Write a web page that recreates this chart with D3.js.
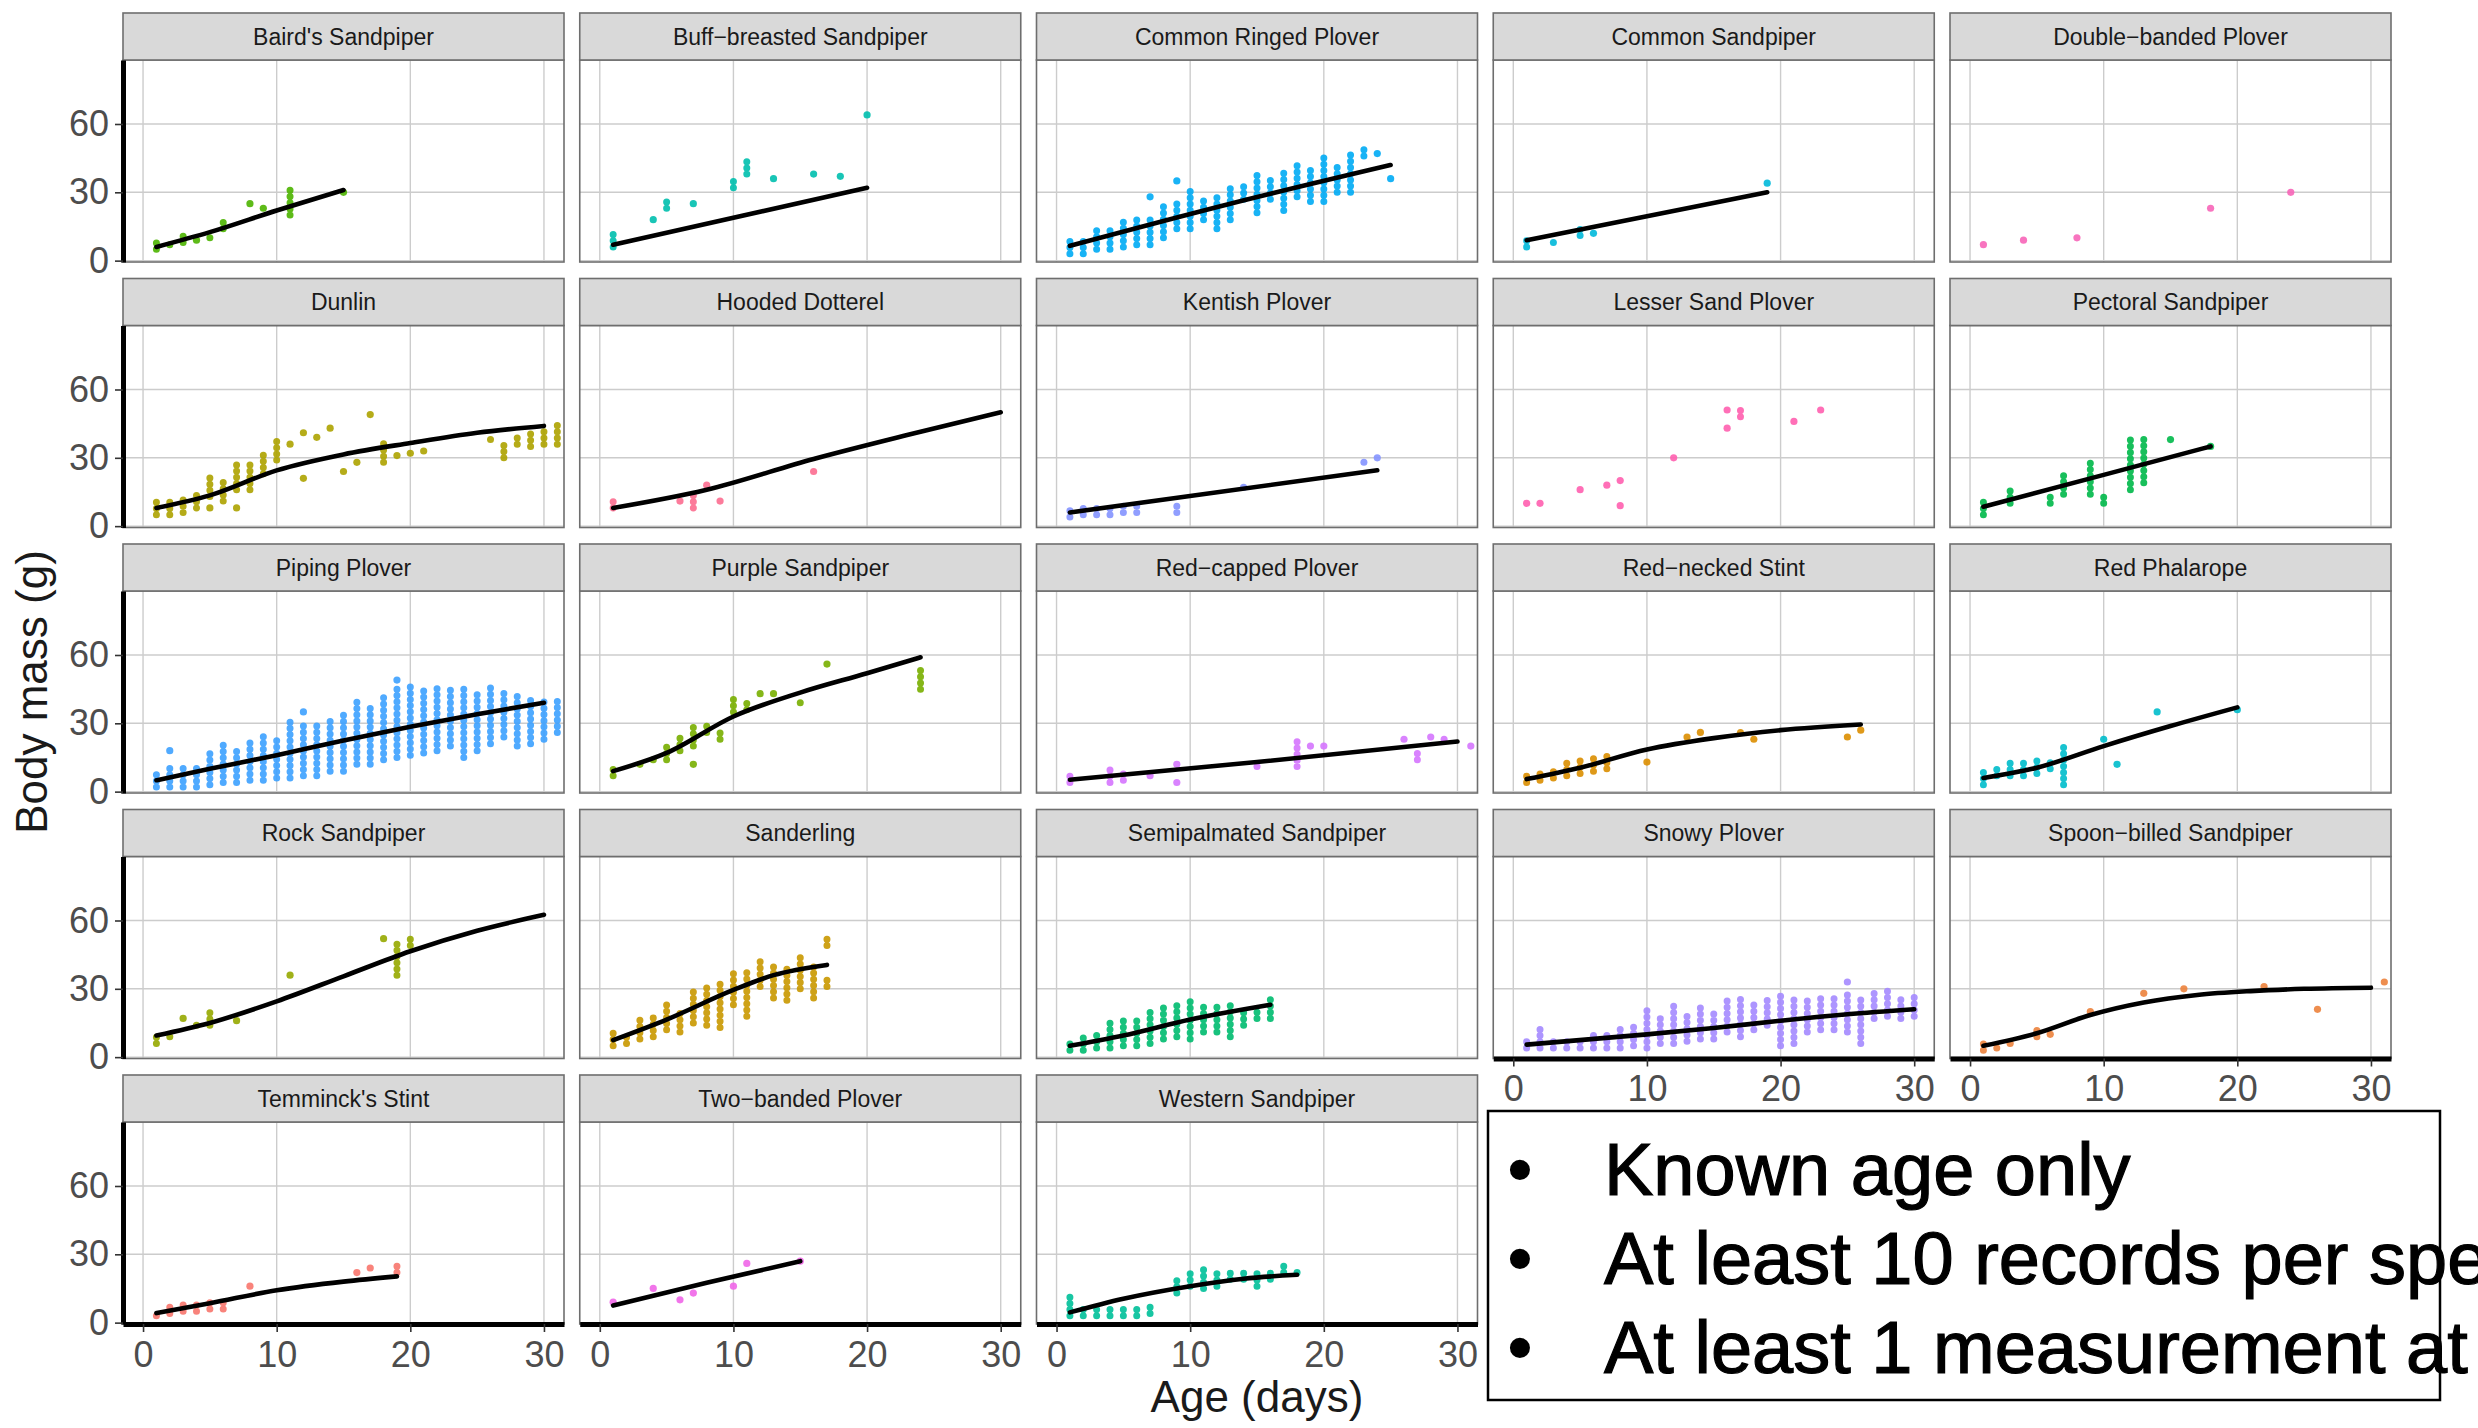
<!DOCTYPE html>
<html>
<head>
<meta charset="utf-8">
<script src="https://cdn.jsdelivr.net/npm/d3@7"></script>
<style>
  html, body { margin: 0; padding: 0; background: #fff; overflow: hidden; }
  svg { display: block; font-family: "Liberation Sans", Arial, sans-serif; }
</style>
</head>
<body>
<svg id="chart" width="2478" height="1428"></svg>
<script>
// facet titles, in panel order
const speciesNames = [
  "Baird's Sandpiper", "Buff\u2212breasted Sandpiper", "Common Ringed Plover", "Common Sandpiper", "Double\u2212banded Plover",
  "Dunlin", "Hooded Dotterel", "Kentish Plover", "Lesser Sand Plover", "Pectoral Sandpiper",
  "Piping Plover", "Purple Sandpiper", "Red\u2212capped Plover", "Red\u2212necked Stint", "Red Phalarope",
  "Rock Sandpiper", "Sanderling", "Semipalmated Sandpiper", "Snowy Plover", "Spoon\u2212billed Sandpiper",
  "Temminck's Stint", "Two\u2212banded Plover", "Western Sandpiper"
];

const speciesColors = [
  "#4CB400", "#00BFAE", "#00ABF5", "#00B9DA", "#F765B8",
  "#ADA300", "#FC6D90", "#8494FF", "#FF5FAF", "#00B94A",
  "#3DA1FF", "#78AF00", "#D575FE", "#DB8E00", "#00BDCB",
  "#96A900", "#C99800", "#00BC6F", "#A58AFF", "#EC823C",
  "#F8766D", "#F066E8", "#00C09A"
];

// body mass records: [age, mass] for a single record, [age, low, high] for a stack of records at one age
const massRecords = [
  [[1,5,8],[2,7,9],[3,8,12],[4,9],[5,10,11],[6,14,19],[8,25],[9,23],[11,20,31],[15,30]],
  [[1,6,12],[4,18],[5,23,27],[7,25],[10,32,37],[11,38,44],[13,36],[16,38],[18,37],[20,64]],
  [[1,3,10],[2,3,11],[3,5,14],[4,5,14],[5,6,17],[6,7,19],[7,7,20],[7,28],[8,10,26],[9,14,27],[9,35],[10,14,31],[11,18,28],[12,14,30],[13,18,33],[14,27,35],[15,21,38],[16,27,36],[17,22,40],[18,28,44],[19,26,42],[20,26,46],[21,30,43],[22,30,48],[23,46,50],[24,47],[25,36]],
  [[1,6,11],[3,8,10],[5,11,14],[6,12],[19,34]],
  [[1,7],[4,9],[8,10],[18,23],[24,30]],
  [[1,5,11],[2,5,11],[3,6,14],[4,8,16],[5,8],[5,13,22],[6,11,21],[7,8],[7,16,29],[8,16,28],[9,23,32],[10,29,38],[11,36],[12,21],[12,41],[13,39],[14,43],[15,24],[16,28],[17,49],[18,28,37],[19,31],[20,32],[21,33],[26,38,40],[27,30,37],[28,36,41],[29,35,42],[30,36,44],[31,36,46]],
  [[1,8,11],[6,11],[7,8,14],[8,18],[9,11],[16,24]],
  [[1,4,8],[2,5,8],[3,5,8],[4,5,9],[5,6,9],[6,6,10],[9,6,11],[14,17],[23,28,29],[24,30]],
  [[1,10],[2,10],[5,16],[7,18],[8,9],[8,20],[12,30],[16,43],[16,51],[17,48,52],[21,46],[23,51]],
  [[1,5,12],[3,10,16],[6,10,15],[7,14,24],[9,14,30],[10,10,14],[12,16,40],[13,19,40],[15,38],[18,35]],
  [[1,2,10],[2,2,12],[2,18],[3,2,12],[4,2,12],[5,3,19],[6,4,21],[7,4,20],[8,5,23],[9,5,25],[10,6,24],[11,6,31],[12,7,30],[12,35],[13,7,30],[14,9,33],[15,9,35],[16,12,40],[17,12,38],[18,14,43],[19,15,45],[19,49],[20,16,47],[21,17,45],[22,18,46],[23,20,46],[24,15,45],[25,18,43],[26,21,47],[27,24,44],[28,20,43],[29,21,42],[30,23,42],[31,26,42]],
  [[1,7,10],[3,12],[4,14],[5,14,21],[6,18,26],[7,12],[7,20,29],[8,26,30],[9,23,27],[10,35,42],[11,36,40],[12,43],[13,43],[15,39,41],[17,56],[24,45,55]],
  [[1,4,7],[4,4,10],[5,5,9],[7,7],[9,4],[9,12],[15,11,12],[18,11,23],[19,20],[20,20],[26,23],[27,14,18],[28,24],[29,23,25],[31,20]],
  [[1,4,7],[2,5,9],[3,6,11],[4,7,13],[5,8,14],[6,9,17],[7,10,18],[10,13],[13,24],[14,26],[17,26,28],[18,23],[25,24],[26,27]],
  [[1,3,10],[2,7,12],[3,7,13],[4,7,14],[5,8,14],[6,10,14],[7,3,21],[10,23],[11,12],[14,35],[20,36]],
  [[1,6,11],[2,9,11],[3,17],[4,14],[5,14,20],[7,16],[11,36],[18,52],[19,36,50],[20,49,53]],
  [[1,5,12],[2,6,11],[3,8,17],[4,9,18],[5,12,25],[6,11,21],[7,15,31],[8,14,33],[9,13,34],[10,23,39],[11,18,39],[12,31,42],[13,26,42],[14,25,40],[15,30,46],[16,26,40],[17,31,34],[17,49,54]],
  [[1,3,8],[2,3,11],[3,4,12],[4,4,17],[5,5,17],[6,5,18],[7,6,21],[8,8,22],[9,9,25],[10,8,25],[11,11,23],[12,11,23],[13,9,24],[14,14,21],[15,17,21],[16,17,27]],
  [[1,4,7],[2,4,14],[3,4,7],[4,4,8],[5,4,8],[6,4,11],[7,4,12],[8,4,14],[9,5,15],[10,4,21],[11,6,17],[12,6,23],[13,7,20],[14,8,23],[15,8,20],[16,11,27],[17,9,26],[18,12,25],[19,14,26],[20,5,27],[21,6,26],[22,11,26],[23,12,28],[24,12,26],[25,11,28],[25,33],[26,6,27],[27,17,28],[28,18,29],[29,17,27],[30,18,28]],
  [[1,3,6],[2,4,5],[3,6],[5,9,12],[6,10],[9,20],[13,28],[16,30],[22,31],[26,21],[31,33]],
  [[1,3,5],[2,4,7],[3,5,8],[4,5,8],[5,6,9],[6,6,9],[8,16],[16,22],[17,24],[19,22,25]],
  [[1,9],[4,15],[6,10],[7,13],[10,16],[11,26],[15,27]],
  [[1,3,12],[2,3,7],[3,3,7],[4,3,7],[5,3,7],[6,3,7],[7,4,8],[9,13,20],[10,16,22],[11,15,24],[12,16,22],[13,19,22],[14,19,24],[15,16,23],[16,19,24],[17,22,25],[18,22,23]]
];

// fitted growth curves [age, mass]; null where no curve was fitted
const fitCurves = [
  [[1,6],[5,12.5],[10,22],[15,31]],
  [[1,7],[20,32]],
  [[1,6.5],[13,25],[25,42]],
  [[1,9],[19,30]],
  null,
  [[1,8],[5,13.5],[10,24.5],[15,31.5],[20,36.5],[25,41],[30,44]],
  [[1,8],[8,16],[16,29.5],[23,40],[30,50]],
  [[1,6],[24,24.5]],
  null,
  [[1,8.5],[10,22.5],[18,35]],
  [[1,5],[5,10],[10,16],[15,22.5],[20,28.5],[25,34],[30,39]],
  [[1,9],[5,17],[10,33],[15,43.5],[20,52],[24,59]],
  [[1,5.2],[15,13],[30,22]],
  [[1,5.5],[5,10.5],[10,18.5],[15,23.5],[20,27],[26,29.5]],
  [[1,6],[5,10.5],[10,20],[15,28.8],[20,37]],
  [[1,9.5],[5,15],[10,24.5],[15,35.5],[20,46.5],[25,55.5],[30,62.5]],
  [[1,7.5],[5,16.5],[10,29.5],[13,36],[17,40.5]],
  [[1,5],[5,9.5],[10,16.5],[16,23]],
  [[1,5.5],[10,10],[15,12.8],[20,16],[25,18.8],[30,21]],
  [[1,5],[5,10.5],[9,18.5],[13,24],[17,27.3],[21,29],[25,30],[30,30.5]],
  [[1,4.2],[5,8.5],[10,14.2],[15,18],[19,20.3]],
  [[1,7.5],[8,17.5],[15,27]],
  [[1,4.5],[5,10.5],[10,16],[14,19.3],[18,21]]
];

const xTicks = [0, 10, 20, 30];
const yTicks = [0, 30, 60];
const xDomain = [-1.5, 31.5];
const yDomain = [-0.6, 88.1];
const noteLines = ["Known age only", "At least 10 records per species", "At least 1 measurement at"];

// layout
const nCol = 5;
const panelW = 441, panelH = 202, stripH = 47;
const colStep = 456.75, rowStep = 265.5;
const left0 = 123, top0 = 13;

const svg = d3.select("#chart");
svg.append("rect").attr("width", 2478).attr("height", 1428).attr("fill", "#fff");

const line = d3.line().curve(d3.curveMonotoneX);

speciesNames.forEach(function(name, i) {
  const col = i % nCol, row = Math.floor(i / nCol);
  const px = left0 + col * colStep;
  const sy = top0 + row * rowStep;
  const py = sy + stripH;

  const x = d3.scaleLinear().domain(xDomain).range([px, px + panelW]);
  const y = d3.scaleLinear().domain(yDomain).range([py + panelH, py]);
  line.x(d => x(d[0])).y(d => y(d[1]));

  const g = svg.append("g");

  // panel background + grid
  g.append("rect").attr("x", px).attr("y", py).attr("width", panelW).attr("height", panelH).attr("fill", "#fff");
  g.selectAll(".gx").data(xTicks).enter().append("line")
    .attr("x1", d => x(d)).attr("x2", d => x(d)).attr("y1", py).attr("y2", py + panelH)
    .attr("stroke", "#cccccc").attr("stroke-width", 1.4);
  g.selectAll(".gy").data(yTicks).enter().append("line")
    .attr("x1", px).attr("x2", px + panelW).attr("y1", d => y(d)).attr("y2", d => y(d))
    .attr("stroke", "#cccccc").attr("stroke-width", 1.4);

  // records: stacks drawn as a column of touching dots
  const recs = massRecords[i];
  g.selectAll(".stack").data(recs.filter(d => d.length == 3)).enter().append("line")
    .attr("x1", d => x(d[0])).attr("x2", d => x(d[0]))
    .attr("y1", d => y(d[1])).attr("y2", d => y(d[2]))
    .attr("stroke", speciesColors[i]).attr("stroke-width", 7).attr("stroke-linecap", "round")
    .attr("stroke-dasharray", "0 6.2")
    .attr("opacity", 0.9);
  g.selectAll(".pt").data(recs.filter(d => d.length == 2)).enter().append("circle")
    .attr("cx", d => x(d[0])).attr("cy", d => y(d[1])).attr("r", 3.6)
    .attr("fill", speciesColors[i]).attr("opacity", 0.9);

  // fitted curve
  if (fitCurves[i]) {
    g.append("path").attr("d", line(fitCurves[i]))
      .attr("fill", "none").attr("stroke", "#000").attr("stroke-width", 4.6).attr("stroke-linecap", "round");
  }

  // panel border
  g.append("rect").attr("x", px).attr("y", py).attr("width", panelW).attr("height", panelH)
    .attr("fill", "none").attr("stroke", "#6e6e6e").attr("stroke-width", 1.6);

  // strip
  g.append("rect").attr("x", px).attr("y", sy).attr("width", panelW).attr("height", stripH)
    .attr("fill", "#d9d9d9").attr("stroke", "#6e6e6e").attr("stroke-width", 1.6);
  g.append("text").attr("x", px + panelW / 2).attr("y", sy + stripH / 2 + 8)
    .attr("text-anchor", "middle").attr("font-size", 23).attr("fill", "#1a1a1a")
    .text(name);

  // y axis on the first column
  if (col == 0) {
    const ay = g.append("g").attr("transform", `translate(${px},0)`)
      .call(d3.axisLeft(y).tickValues(yTicks).tickSize(8).tickSizeOuter(0).tickPadding(6));
    ay.select(".domain").attr("stroke", "#000").attr("stroke-width", 5);
    ay.selectAll(".tick line").attr("stroke", "#333").attr("stroke-width", 1.6);
    ay.selectAll(".tick text").attr("font-size", 36).attr("fill", "#4d4d4d")
      .attr("font-family", "Liberation Sans, Arial, sans-serif");
  }

  // x axis on the lowest panel of each column
  if (i + nCol >= speciesNames.length) {
    const ax = g.append("g").attr("transform", `translate(0,${py + panelH})`)
      .call(d3.axisBottom(x).tickValues(xTicks).tickSize(8).tickSizeOuter(0).tickPadding(9));
    ax.select(".domain").attr("stroke", "#000").attr("stroke-width", 5);
    ax.selectAll(".tick line").attr("stroke", "#333").attr("stroke-width", 1.6);
    ax.selectAll(".tick text").attr("font-size", 36).attr("fill", "#4d4d4d")
      .attr("font-family", "Liberation Sans, Arial, sans-serif");
  }
});

// axis titles
svg.append("text").attr("transform", "translate(47,692) rotate(-90)")
  .attr("text-anchor", "middle").attr("font-size", 44).attr("fill", "#1a1a1a")
  .text("Body mass (g)");
svg.append("text").attr("x", 1257).attr("y", 1412)
  .attr("text-anchor", "middle").attr("font-size", 44).attr("fill", "#1a1a1a")
  .text("Age (days)");

// note box (its text runs past the right edge, as in the original slide)
svg.append("rect").attr("x", 1488).attr("y", 1111).attr("width", 952).attr("height", 289)
  .attr("fill", "#fff").attr("stroke", "#000").attr("stroke-width", 2.5);
const note = svg.append("g");
noteLines.forEach(function(t, k) {
  const by = 1195 + k * 89;
  note.append("text").attr("x", 1520).attr("y", by).attr("text-anchor", "middle")
    .attr("font-size", 74).attr("fill", "#000").text("\u2022");
  note.append("text").attr("x", 1604).attr("y", by)
    .attr("font-size", 74).attr("fill", "#000")
    .attr("stroke", "#000").attr("stroke-width", 1.2)
    .text(t);
});
</script>
</body>
</html>
